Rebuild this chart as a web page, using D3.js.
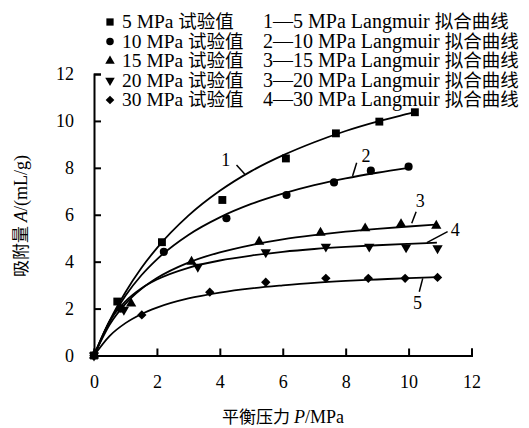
<!DOCTYPE html>
<html><head><meta charset="utf-8">
<script src="https://cdn.jsdelivr.net/npm/d3@7"></script>
<style>body{margin:0;background:#fff}svg{display:block}</style>
</head><body>
<script>
// ---- data ----
const xTicks = [0, 2, 4, 6, 8, 10, 12];
const yTicks = [0, 2, 4, 6, 8, 10, 12];

const p5  = [0, 0.74, 2.16, 4.08, 6.1, 7.69, 9.07, 10.2];
const a5  = [0, 2.3, 4.83, 6.63, 8.4, 9.47, 9.97, 10.37];
const p10 = [0, 0.85, 2.22, 4.21, 6.12, 7.63, 8.8, 10.0];
const a10 = [0, 2.0, 4.42, 5.85, 6.84, 7.38, 7.88, 8.05];
const p15 = [0, 1.18, 3.1, 5.25, 7.2, 8.62, 9.76, 10.88];
const a15 = [0, 2.22, 4.0, 4.85, 5.23, 5.42, 5.6, 5.53];
const p20 = [0, 0.95, 3.3, 5.46, 7.37, 8.75, 9.92, 10.92];
const a20 = [0, 1.95, 3.78, 4.4, 4.64, 4.64, 4.61, 4.57];
const p30 = [0, 1.52, 3.68, 5.46, 7.37, 8.72, 9.89, 10.92];
const a30 = [0, 1.73, 2.7, 3.12, 3.29, 3.29, 3.29, 3.33];

// fitted (Langmuir) curves
const fitP  = [0, 0.5, 1, 1.5, 2, 3, 4, 5, 6, 7, 8, 9, 10];
const fit1End = [10.2, 10.38];
const fit1 = [0, 1.49, 2.70, 3.72, 4.58, 5.96, 7.02, 7.86, 8.53, 9.09, 9.57, 9.97, 10.31];
const fit2 = [0, 1.45, 2.55, 3.41, 4.10, 5.14, 5.89, 6.46, 6.90, 7.26, 7.55, 7.79, 8.0];
const fit3End = [10.9, 5.58];
const fit3 = [0, 1.32, 2.2, 2.83, 3.3, 3.96, 4.4, 4.71, 4.95, 5.13, 5.28, 5.4, 5.5];
const fit4End = [10.9, 4.81];
const fit4 = [0, 1.47, 2.31, 2.86, 3.24, 3.74, 4.05, 4.26, 4.42, 4.54, 4.63, 4.70, 4.76];
const fit5End = [10.9, 3.34];
const fit5 = [0, 0.84, 1.38, 1.76, 2.04, 2.43, 2.68, 2.86, 2.99, 3.1, 3.18, 3.24, 3.3];

const seriesNames = ["5 MPa ", "10 MPa ", "15 MPa ", "20 MPa ", "30 MPa "];
const fitNames = ["1—5 MPa Langmuir ", "2—10 MPa Langmuir ", "3—15 MPa Langmuir ", "3—20 MPa Langmuir ", "4—30 MPa Langmuir "];
const expSuffix = "试验值";
const fitSuffix = "拟合曲线";

// curve labels: [text, labelP, labelA, leader P1, A1, P2, A2]
const curveLabels = [
  ["1", 4.19, 8.33, 4.53, 8.12, 4.79, 7.74],
  ["2", 8.65, 8.5, 8.35, 8.22, 8.22, 7.65],
  ["3", 10.37, 6.6, 10.24, 6.13, 10.1, 5.64],
  ["4", 11.48, 5.35, 11.24, 5.28, 10.58, 4.81],
  ["5", 10.28, 2.23, 10.45, 3.29, 10.34, 2.72]
];

// ---- drawing ----
const W = 529, H = 428;
const svg = d3.select("body").append("svg").attr("width", W).attr("height", H);
const serif = "'Liberation Serif','Times New Roman',serif";
const cjk = "'Noto Sans CJK SC',sans-serif";

const x = d3.scaleLinear().domain([0, 12]).range([94, 471.5]);
const y = d3.scaleLinear().domain([0, 12]).range([355.5, 74]);

const xAxis = svg.append("g").attr("transform", `translate(0,${y(0)})`)
  .call(d3.axisBottom(x).tickValues(xTicks).tickSize(-7).tickPadding(19.5).tickFormat(d3.format("d")));
const yAxis = svg.append("g").attr("transform", `translate(${x(0)},0)`)
  .call(d3.axisLeft(y).tickValues(yTicks).tickSize(-7).tickPadding(20).tickFormat(d3.format("d")));
[xAxis, yAxis].forEach(g => {
  g.selectAll("path,line").attr("stroke", "#000").attr("stroke-width", 2);
  g.selectAll("text").attr("font-family", serif).attr("font-size", 18).attr("fill", "#000");
});

// fitted curves
const line = d3.line().x(d => x(d[0])).y(d => y(d[1])).curve(d3.curveMonotoneX);
const fits = [
  [fit1, fit1End], [fit2, null], [fit3, fit3End], [fit4, fit4End], [fit5, fit5End]
];
fits.forEach(([vals, end]) => {
  const pts = fitP.map((p, i) => [p, vals[i]]);
  if (end) pts.push(end);
  svg.append("path").attr("d", line(pts)).attr("fill", "none")
    .attr("stroke", "#000").attr("stroke-width", 1.8);
});

// markers
const diamond = { draw(ctx, size) { const r = Math.sqrt(size / 2); ctx.moveTo(0, -r); ctx.lineTo(r, 0); ctx.lineTo(0, r); ctx.lineTo(-r, 0); ctx.closePath(); } };
const markerDefs = [
  { type: d3.symbolSquare, size: 62, rot: 0 },
  { type: d3.symbolCircle, size: 52, rot: 0 },
  { type: d3.symbolTriangle, size: 46, rot: 0 },
  { type: d3.symbolTriangle, size: 46, rot: 180 },
  { type: diamond, size: 44, rot: 0 }
];
const seriesData = [[p5, a5], [p10, a10], [p15, a15], [p20, a20], [p30, a30]];
seriesData.forEach(([ps, as], si) => {
  const m = markerDefs[si];
  const sym = d3.symbol().type(m.type).size(m.size);
  svg.append("g").selectAll("path").data(ps.map((p, i) => [p, as[i]])).join("path")
    .attr("d", sym)
    .attr("transform", d => `translate(${x(d[0])},${y(d[1])}) rotate(${m.rot})`)
    .attr("fill", "#000");
});

// curve labels
curveLabels.forEach(([t, lp, la, p1, a1, p2, a2]) => {
  svg.append("line").attr("x1", x(p1)).attr("y1", y(a1)).attr("x2", x(p2)).attr("y2", y(a2))
    .attr("stroke", "#000").attr("stroke-width", 1.5);
  svg.append("text").attr("x", x(lp)).attr("y", y(la)).attr("dy", "0.35em")
    .attr("text-anchor", "middle").attr("font-family", serif).attr("font-size", 18).text(t);
});

// legend
const legRow = i => 28 + 19.5 * i;
seriesNames.forEach((n, i) => {
  const m = markerDefs[i];
  const sym = d3.symbol().type(m.type).size(m.size * 0.85);
  svg.append("path").attr("d", sym)
    .attr("transform", `translate(110,${legRow(i) - 6}) rotate(${m.rot})`).attr("fill", "#000");
  const t = svg.append("text").attr("x", 122).attr("y", legRow(i)).attr("font-size", 19.5).attr("fill", "#000");
  t.append("tspan").attr("font-family", serif).text(n);
  t.append("tspan").attr("font-family", cjk).attr("font-size", 18.5).text(expSuffix);
  const t2 = svg.append("text").attr("x", 263).attr("y", legRow(i)).attr("font-size", 20).attr("fill", "#000");
  t2.append("tspan").attr("font-family", serif).text(fitNames[i]);
  t2.append("tspan").attr("font-family", cjk).attr("font-size", 18.5).text(fitSuffix);
});

// axis titles
const yt = svg.append("text").attr("transform", "translate(27,216) rotate(-90)")
  .attr("text-anchor", "middle").attr("font-size", 18).attr("fill", "#000");
yt.append("tspan").attr("font-family", cjk).attr("font-size", 17).text("吸附量 ");
yt.append("tspan").attr("font-family", serif).attr("font-style", "italic").text("A");
yt.append("tspan").attr("font-family", serif).text("/(mL/g)");

const xt = svg.append("text").attr("x", 283).attr("y", 423)
  .attr("text-anchor", "middle").attr("font-size", 18).attr("fill", "#000");
xt.append("tspan").attr("font-family", cjk).attr("font-size", 17).text("平衡压力 ");
xt.append("tspan").attr("font-family", serif).attr("font-style", "italic").text("P");
xt.append("tspan").attr("font-family", serif).text("/MPa");
</script>
</body></html>
